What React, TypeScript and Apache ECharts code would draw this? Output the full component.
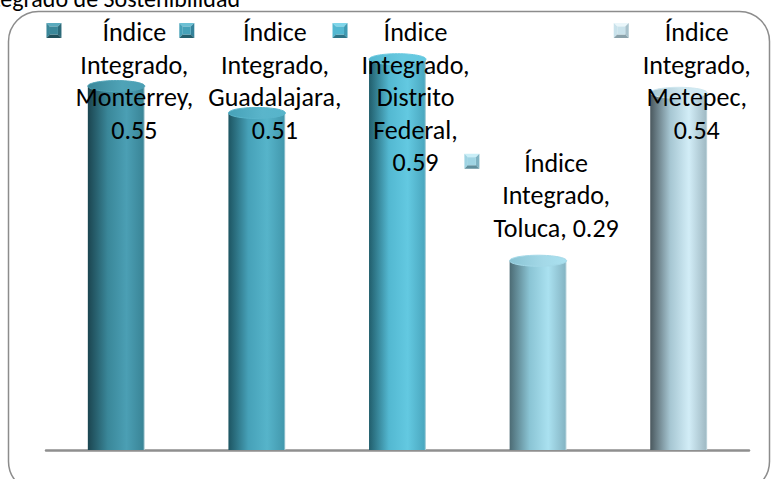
import React, { useEffect, useRef } from "react";
import * as echarts from "echarts";

const chartTitle = "Índice Integrado de Sostenibilidad";
const seriesName = "Índice Integrado";
const categories = ["Monterrey", "Guadalajara", "Distrito Federal", "Toluca", "Metepec"];
const values = [0.55, 0.51, 0.59, 0.29, 0.54];

// body gradient stops per bar: [left edge, mid, highlight, right edge]
const bodyColors = [
  ["#1b4550", "#3a8799", "#4b9fb4", "#3a8597"],
  ["#1d5562", "#46a1b8", "#56b4ca", "#4399ae"],
  ["#215e6c", "#53b8d1", "#63c9e1", "#4ba8c0"],
  ["#4c6b74", "#8ac4d4", "#aae1f0", "#86b6c5"],
  ["#4a585e", "#a6c6d2", "#d2edf7", "#a2bcc6"],
];
const capColors = ["#4fa3b7", "#5ab5cb", "#68c9e0", "#a4d9e8", "#cfe7ef"];
const keyColors = [
  ["#5aaabd", "#3a8799", "#2b6a79", "#1f4f5a"],
  ["#6cc0d4", "#46a1b8", "#34829a", "#235e6c"],
  ["#7fd6ea", "#53b8d1", "#3f9bb3", "#2d7487"],
  ["#c9eef7", "#9fd4e3", "#7fb3c3", "#5f8e9c"],
  ["#eaf6fa", "#c9e2eb", "#a8c2cc", "#8aa1aa"],
];

const FONT = "Carlito, Calibri, Lato, sans-serif";
const FS = 26;
const LH = 32.5;
const AXIS_Y_BOTTOM = 29;

function measurer(font: string) {
  const c = document.createElement("canvas");
  const ctx = c.getContext("2d")!;
  ctx.font = font;
  return (t: string) => ctx.measureText(t).width;
}

function wrap(text: string, maxW: number, m: (t: string) => number) {
  const words = text.split(" ");
  const lines: string[] = [];
  let cur = "";
  for (const w of words) {
    const test = cur ? cur + " " + w : w;
    if (cur && m(test) > maxW) {
      lines.push(cur);
      cur = w;
    } else cur = test;
  }
  if (cur) lines.push(cur);
  return lines;
}

function keyIcon(x: number, y: number, s: number, c: string[]) {
  const i = 3.5;
  return {
    type: "group",
    z: 100,
    children: [
      { type: "polygon", shape: { points: [[x, y], [x + s, y], [x + s - i, y + i], [x + i, y + i]] }, style: { fill: c[0] } },
      { type: "polygon", shape: { points: [[x, y], [x + i, y + i], [x + i, y + s - i], [x, y + s]] }, style: { fill: c[1] } },
      { type: "polygon", shape: { points: [[x + s, y], [x + s, y + s], [x + s - i, y + s - i], [x + s - i, y + i]] }, style: { fill: c[2] } },
      { type: "polygon", shape: { points: [[x, y + s], [x + i, y + s - i], [x + s - i, y + s - i], [x + s, y + s]] }, style: { fill: c[3] } },
      { type: "rect", shape: { x: x + i, y: y + i, width: s - 2 * i, height: s - 2 * i }, style: { fill: c[1] } },
    ],
  };
}

export default function App() {
  const ref = useRef<HTMLDivElement>(null);
  useEffect(() => {
    const chart = echarts.init(ref.current!, null, { renderer: "svg" });
    const capH = 11;
    const option: any = {
      animation: false,
      grid: { left: 46, right: 23, top: 47, bottom: AXIS_Y_BOTTOM },
      xAxis: {
        type: "category",
        data: categories,
        axisLine: { show: true, lineStyle: { color: "#8f8f8f", width: 2.5 } },
        axisTick: { show: false },
        axisLabel: { show: false },
      },
      yAxis: { type: "value", min: 0, max: 0.6, show: false, splitLine: { show: false } },
      series: [
        {
          type: "custom",
          name: seriesName,
          z: 2,
          data: values.map((v, i) => [i, v]),
          renderItem: (params: any, api: any) => {
            const idx = params.dataIndex;
            const top = api.coord([api.value(0), api.value(1)]);
            const base = api.coord([api.value(0), 0]);
            const w = api.size([1, 0])[0] * 0.405;
            const bc = bodyColors[idx];
            const x0 = top[0] - w / 2;
            return {
              type: "group",
              children: [
                {
                  type: "rect",
                  shape: { x: x0, y: top[1] + capH / 2, width: w, height: base[1] - top[1] - capH / 2 },
                  style: {
                    fill: new echarts.graphic.LinearGradient(0, 0, 1, 0, [
                      { offset: 0, color: bc[0] },
                      { offset: 0.35, color: bc[1] },
                      { offset: 0.68, color: bc[2] },
                      { offset: 0.97, color: bc[3] },
                      { offset: 1, color: "#c8dde3" },
                    ]),
                  },
                },
                {
                  type: "ellipse",
                  shape: { cx: top[0], cy: top[1] + capH / 2, rx: w / 2, ry: capH / 2 },
                  style: {
                    fill: new echarts.graphic.LinearGradient(0, 0, 1, 0, [
                      { offset: 0, color: bc[1] },
                      { offset: 0.6, color: capColors[idx] },
                      { offset: 1, color: bc[2] },
                    ]),
                    stroke: capColors[idx],
                    lineWidth: 1,
                  },
                },
              ],
            };
          },
        },
      ],
    };
    chart.setOption(option);

    const font = `${FS}px ${FONT}`;
    const m = measurer(font);
    const graphics: any[] = [];
    graphics.push({
      type: "rect",
      z: 1,
      shape: { x: 8.5, y: 11.5, width: 761, height: 480, r: 30 },
      style: { fill: "none", stroke: "#8c8c8c", lineWidth: 1.5 },
      silent: true,
    });
    graphics.push({
      type: "text",
      z: 100,
      x: 240,
      y: 10,
      style: { text: chartTitle, font: `24px ${FONT}`, fill: "#000", align: "right", verticalAlign: "bottom" },
    });
    const keyS = 15;
    const gap = 14;
    values.forEach((v, i) => {
      const p = chart.convertToPixel({ gridIndex: 0 }, [i, v]) as number[];
      const txt = `${seriesName}, ${categories[i]}, ${v.toFixed(2)}`;
      const lines = wrap(txt, 130, m);
      const maxW = Math.max(...lines.map(m));
      const blockW = keyS + gap + maxW;
      const left = p[0] - blockW / 2 + 3.5;
      const textCx = left + keyS + gap + maxW / 2;
      const topY = Math.max(16, p[1] - 11 - lines.length * LH);
      graphics.push(keyIcon(left, topY + 7, keyS, keyColors[i]));
      graphics.push({
        type: "text",
        z: 100,
        x: textCx,
        y: topY,
        style: {
          text: lines.join("\n"),
          font,
          fill: "#000",
          align: "center",
          verticalAlign: "top",
          lineHeight: LH,
        },
      });
    });
    chart.setOption({ graphic: graphics });
    return () => chart.dispose();
  }, []);
  return (
    <div
      ref={ref}
      style={{ position: "fixed", left: 0, top: 0, width: 772, height: 479, background: "#fff" }}
    />
  );
}
